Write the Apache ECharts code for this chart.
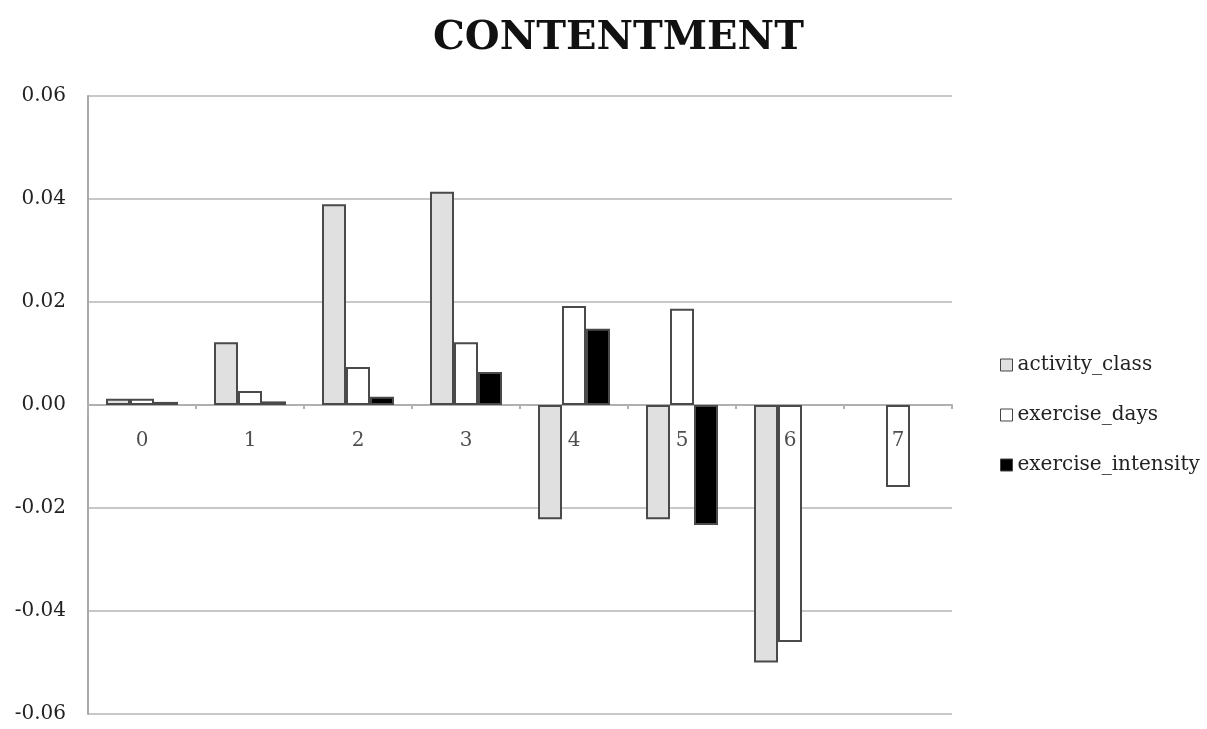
<!DOCTYPE html>
<html>
<head>
<meta charset="utf-8">
<script src="https://cdn.jsdelivr.net/npm/echarts@6/dist/echarts.min.js"></script>
<style>html,body{margin:0;padding:0;background:#fff;}#chart{width:1207px;height:729px;}</style>
</head>
<body>
<div id="chart"></div>
<script>
const categories = ['0','1','2','3','4','5','6','7'];
const activityClass = [0.0012, 0.0122, 0.0390, 0.0414, -0.0222, -0.0222, -0.0500, null];
const exerciseDays = [0.0012, 0.0027, 0.0074, 0.0122, 0.0192, 0.0187, -0.0460, -0.0159];
const exerciseIntensity = [0.0006, 0.0007, 0.0016, 0.0064, 0.0148, -0.0233, null, null];
const seriesNames = ['activity_class', 'exercise_days', 'exercise_intensity'];
const yMin = -0.06, yMax = 0.06, yStep = 0.02;

const FONT = 'DejaVu Serif';
const chart = echarts.init(document.getElementById('chart'), null, {renderer: 'canvas'});
const barStyle = (color) => ({ color: color, borderColor: '#4a4a4a', borderWidth: 2 });
chart.setOption({
  animation: false,
  backgroundColor: '#fff',
  title: {
    text: 'CONTENTMENT',
    left: 428, top: 14,
    textStyle: { fontFamily: FONT, fontSize: 40, fontWeight: 'bold', color: '#111' }
  },
  legend: {
    orient: 'vertical',
    left: 995, top: 350,
    itemWidth: 12, itemHeight: 12, itemGap: 30,
    icon: 'rect',
    itemStyle: { borderColor: '#444', borderWidth: 1 },
    textStyle: { fontFamily: FONT, fontSize: 20, color: '#222', padding: [12, 0, 0, 0] },
    data: seriesNames
  },
  grid: { left: 88, right: 255, top: 96, bottom: 15, containLabel: false, outerBoundsMode: 'none' },
  xAxis: {
    type: 'category',
    data: categories,
    axisLine: { onZero: true, lineStyle: { color: '#b0b0b0', width: 2 } },
    axisTick: { show: true, length: 4, lineStyle: { color: '#b0b0b0', width: 2 } },
    axisLabel: { show: false },
    splitLine: { show: false }
  },
  yAxis: {
    type: 'value',
    min: yMin, max: yMax, interval: yStep,
    axisLine: { show: true, lineStyle: { color: '#aaaaaa', width: 2 } },
    axisTick: { show: false },
    axisLabel: { fontFamily: FONT, fontSize: 20, color: '#222', margin: 22,
      formatter: v => v.toFixed(2) },
    splitLine: { show: true, lineStyle: { color: '#c8c8c8', width: 2 } }
  },
  series: [
    { name: seriesNames[0], type: 'bar', data: activityClass, barWidth: 24, barGap: '0%', itemStyle: barStyle('#e0e0e0') },
    { name: seriesNames[1], type: 'bar', data: exerciseDays, barWidth: 24, barGap: '0%', itemStyle: barStyle('#ffffff') },
    { name: seriesNames[2], type: 'bar', data: exerciseIntensity, barWidth: 24, barGap: '0%', itemStyle: barStyle('#000000') },
    { name: 'xlabels', type: 'scatter', symbolSize: 0, silent: true, z: 10,
      data: categories.map(c => [c, 0]),
      label: { show: true, position: 'bottom', distance: 26, formatter: p => p.value[0],
        fontFamily: FONT, fontSize: 20, color: '#222' } }
  ]
});
</script>
</body>
</html>
